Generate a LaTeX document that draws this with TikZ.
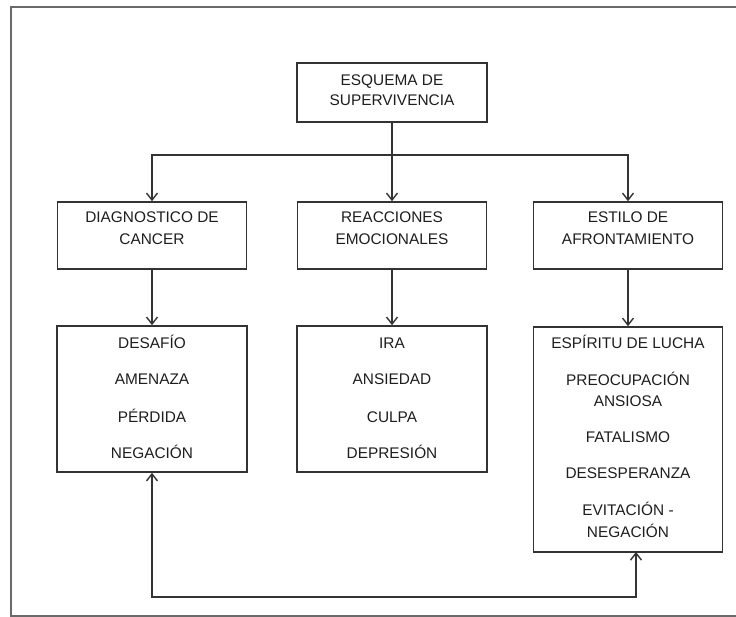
\documentclass[tikz,border=0pt]{standalone}
\usepackage{fontspec}
\setmainfont{Liberation Sans}
\usetikzlibrary{arrows.meta}
\definecolor{linec}{HTML}{333333}
\definecolor{framec}{HTML}{6A6A6A}
\definecolor{textc}{HTML}{1E1E1E}
\tikzset{
  box/.style={draw=linec, line width=1.6pt, inner sep=0pt, fill=white},
  txt/.style={text=textc, font=\fontsize{15.4pt}{21pt}\selectfont, inner sep=0pt, text height=11.2pt, text depth=0pt, anchor=center},
  conn/.style={draw=linec, line width=1.6pt},
  arr/.style={conn, -{Straight Barb[length=7pt,width=11pt,line width=1.4pt]}},
  barr/.style={conn, {Straight Barb[length=7pt,width=11pt,line width=1.4pt]}-{Straight Barb[length=7pt,width=11pt,line width=1.4pt]}},
}
\begin{document}
\begin{tikzpicture}[x=1pt,y=-1pt]
\useasboundingbox (0,0) rectangle (736,617);
\fill[white] (0,0) rectangle (736,617);
\begin{scope}
\clip (0,0) rectangle (736,617);
\draw[framec, line width=2pt] (11,7) rectangle (760,616);
\end{scope}

% boxes
\node[box, minimum width=190pt, minimum height=59pt] (top) at (392,92.5) {};
\node[box, minimum width=189pt, minimum height=67pt] (diag) at (152,235.5) {};
\node[box, minimum width=189pt, minimum height=67pt] (reac) at (392,235.5) {};
\node[box, minimum width=189pt, minimum height=67pt] (esti) at (628,235.5) {};
\node[box, minimum width=190pt, minimum height=146pt] (lbox) at (152,399) {};
\node[box, minimum width=190pt, minimum height=146pt] (mbox) at (392,399) {};
\node[box, minimum width=189pt, minimum height=225pt] (rbox) at (628,439.5) {};

% texts
\node[txt] (t1a) at (392,80) {ESQUEMA DE};
\node[txt] (t1b) at (392,100) {SUPERVIVENCIA};
\node[txt] (t2a) at (152,217) {DIAGNOSTICO DE};
\node[txt] (t2b) at (152,239) {CANCER};
\node[txt] (t3a) at (392,217) {REACCIONES};
\node[txt] (t3b) at (392,239) {EMOCIONALES};
\node[txt] (t4a) at (628,217) {ESTILO DE};
\node[txt] (t4b) at (628,239) {AFRONTAMIENTO};

\node[txt] (l1) at (152,343) {DESAFÍO};
\node[txt] (l2) at (152,379) {AMENAZA};
\node[txt] (l3) at (152,417) {PÉRDIDA};
\node[txt] (l4) at (152,453) {NEGACIÓN};

\node[txt] (m1) at (392,343) {IRA};
\node[txt] (m2) at (392,379) {ANSIEDAD};
\node[txt] (m3) at (392,417) {CULPA};
\node[txt] (m4) at (392,453) {DEPRESIÓN};

\node[txt] (r1) at (628,343) {ESPÍRITU DE LUCHA};
\node[txt] (r2) at (628,380) {PREOCUPACIÓN};
\node[txt] (r2b) at (628,401) {ANSIOSA};
\node[txt] (r3) at (628,437) {FATALISMO};
\node[txt] (r4) at (628,473) {DESESPERANZA};
\node[txt] (r5) at (628,510) {EVITACIÓN -};
\node[txt] (r5b) at (628,532) {NEGACIÓN};

% connectors
\coordinate (j) at (392,155);
\draw[conn] (top.south) -- (j);
\draw[arr] (j) -| (diag.north);
\draw[arr] (j) -| (esti.north);
\draw[arr] (j) -- (reac.north);

\draw[arr] (diag.south) -- (lbox.north);
\draw[arr] (reac.south) -- (mbox.north);
\draw[arr] (esti.south) -- (rbox.north);

\coordinate (rin) at (636,552);
\coordinate (lb) at (152,597);
\draw[barr] (lbox.south) -- (lb) -| (rin);
\end{tikzpicture}
\end{document}
